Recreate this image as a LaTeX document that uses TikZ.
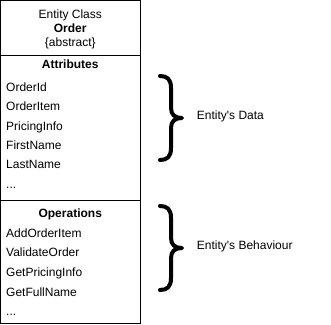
\documentclass[tikz,border=0pt]{standalone}
\usepackage{fontspec}
\setmainfont{Liberation Sans}[Ligatures=TeXOff]
\begin{document}
\begin{tikzpicture}[x=1pt,y=-1pt,
  sec/.style={draw=black, line width=1pt, minimum width=139.5pt, inner sep=0pt, outer sep=0pt},
  txt/.style={anchor=base west, inner sep=0pt, font=\fontsize{12}{14}\selectfont},
  ctxt/.style={anchor=base, inner sep=0pt, font=\fontsize{12}{14}\selectfont},
  brace/.style={draw=black, line width=4pt, line cap=round, line join=round}]
\useasboundingbox (0,0) rectangle (331,324);
% sections
\node[sec, minimum height=54.5pt] (head) at (70.25,27.75) {};
\node[sec, minimum height=145pt] (attr) at (70.25,127.5) {};
\node[sec, minimum height=123pt] (ops) at (70.25,261.5) {};
% header
\node[ctxt] (cls) at (70.25,18.5) {Entity Class};
\node[ctxt, font=\fontsize{12}{14}\selectfont\bfseries] (name) at (70.25,32.5) {Order};
\node[ctxt] (abs) at (70.25,46.5) {\{abstract\}};
% attributes
\node[ctxt, font=\fontsize{12}{14}\selectfont\bfseries] (atitle) at (70.25,68.8) {Attributes};
\node[txt] (a1) at (6,91) {OrderId};
\node[txt] (a2) at (6,110.5) {OrderItem};
\node[txt] (a3) at (6,130) {PricingInfo};
\node[txt] (a4) at (6,149.3) {FirstName};
\node[txt] (a5) at (6,168.7) {LastName};
\node[txt] (a6) at (6,188) {...};
% operations
\node[ctxt, font=\fontsize{12}{14}\selectfont\bfseries] (otitle) at (70.25,217.5) {Operations};
\node[txt] (o1) at (6,237) {AddOrderItem};
\node[txt] (o2) at (6,256.5) {ValidateOrder};
\node[txt] (o3) at (6,276) {GetPricingInfo};
\node[txt] (o4) at (6,296) {GetFullName};
\node[txt] (o5) at (6,315.5) {...};
% braces
\draw[brace] (160,76) .. controls (167,76) and (171,79) .. (171,88) -- (171,108)
  .. controls (171,115) and (175,118) .. (182,118)
  .. controls (175,118) and (171,121) .. (171,128) -- (171,148)
  .. controls (171,157) and (167,160) .. (160,160);
\draw[brace] (160,206) .. controls (167,206) and (171,209) .. (171,218) -- (171,238)
  .. controls (171,245) and (175,248) .. (182,248)
  .. controls (175,248) and (171,251) .. (171,258) -- (171,278)
  .. controls (171,287) and (167,290) .. (160,290);
\node[txt] (data) at (196.7,119.3) {Entity's Data};
\node[txt] (beh) at (196.7,249.5) {Entity's Behaviour};
\end{tikzpicture}
\end{document}
